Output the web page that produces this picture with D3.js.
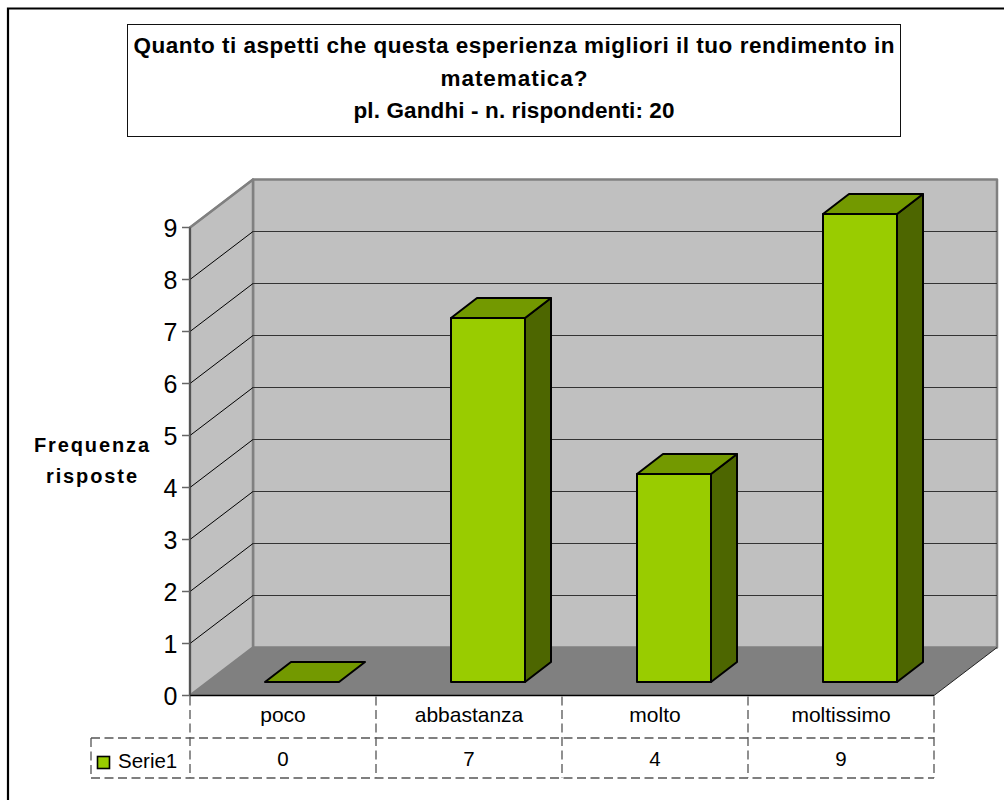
<!DOCTYPE html>
<html><head><meta charset="utf-8">
<script src="https://cdn.jsdelivr.net/npm/d3@7"></script>
<style>html,body{margin:0;padding:0;background:#fff}svg{display:block}text{font-family:"Liberation Sans",Arial,sans-serif;fill:#000}</style>
</head><body><script>
const categories = ["poco","abbastanza","molto","moltissimo"];
const seriesName = "Serie1";
const seriesValues = [0,7,4,9];
const yTicks = [0,1,2,3,4,5,6,7,8,9];
const titleLines = ["Quanto ti aspetti che questa esperienza migliori il tuo rendimento in","matematica?","pl. Gandhi - n. rispondenti: 20"];
const yTitleLines = ["Frequenza","risposte"];

const svg = d3.select("body").append("svg").attr("width",1004).attr("height",800);
const x = d3.scaleBand().domain(categories).range([190,934]);
const y = d3.scaleLinear().domain([0,9]).range([695.5,227.5]);
const wallDx = 63, wallDy = -48;
const barOffDx = 17, barOffDy = -13.5, barDepthDx = 26, barDepthDy = -20, barInset = 58, barW = 74;
const line = d3.line();
const poly = (pts,fill,stroke,sw) => svg.append("path").attr("d",line(pts)+"Z").attr("fill",fill)
  .attr("stroke",stroke||"none").attr("stroke-width",sw||0).attr("stroke-linejoin","round");
const seg = (x1,y1,x2,y2,stroke,sw,dash) => svg.append("line").attr("x1",x1).attr("y1",y1).attr("x2",x2).attr("y2",y2)
  .attr("stroke",stroke).attr("stroke-width",sw).attr("stroke-dasharray",dash||null);

// frame
svg.append("path").attr("d","M8,1000V8.5H1010").attr("fill","none").attr("stroke","#000").attr("stroke-width",2.2);

// title box
svg.append("rect").attr("x",127.5).attr("y",24.5).attr("width",773).attr("height",112).attr("fill","#fff").attr("stroke","#111").attr("stroke-width",1);
const titleWidths = [761,147,321], titleBase = [53,86,118];
svg.append("g").selectAll("text").data(titleLines).join("text")
  .attr("x",514).attr("y",(d,i)=>titleBase[i]).attr("text-anchor","middle")
  .attr("font-size",22.5).attr("font-weight","bold")
  .attr("textLength",(d,i)=>titleWidths[i]).attr("lengthAdjust","spacing").text(d=>d);

// walls
const [x0,x1] = x.range(); const y0 = y(0), y9 = y(9);
poly([[x0+wallDx,y9+wallDy],[x1+wallDx,y9+wallDy],[x1+wallDx,y0+wallDy],[x0+wallDx,y0+wallDy]],"#C0C0C0","#808080",2.5);
poly([[x0,y9],[x0+wallDx,y9+wallDy],[x0+wallDx,y0+wallDy],[x0,y0]],"#C0C0C0","#808080",2.5);
poly([[x0,y0],[x0+wallDx,y0+wallDy],[x1+wallDx,y0+wallDy],[x1,y0]],"#808080");

// gridlines
yTicks.filter(t=>t>0&&t<9).forEach(t=>{
  seg(x0,y(t),x0+wallDx,y(t)+wallDy,"#000",1);
  seg(x0+wallDx,y(t)+wallDy,x1+wallDx,y(t)+wallDy,"#333",1.2);
});
seg(x0,y(9),x0+wallDx,y(9)+wallDy,"#808080",2);
seg(x0,y0,x1,y0,"#000",1.5);
seg(x1,y0,x1+wallDx,y0+wallDy,"#222",1);
seg(x0,y9,x0,y0,"#444",1.5);

// ticks
yTicks.forEach(t=>{
  seg(x0-8,y(t),x0,y(t),"#666",1.5);
  svg.append("text").attr("x",x0-12.5).attr("y",y(t)+9).attr("text-anchor","end").attr("font-size",25).text(t);
});

// axis title
const yTitleWidths = [115,91];
svg.append("g").selectAll("text").data(yTitleLines).join("text")
  .attr("x",91.5).attr("y",(d,i)=>452+i*31).attr("text-anchor","middle")
  .attr("font-size",20).attr("font-weight","bold")
  .attr("textLength",(d,i)=>yTitleWidths[i]).attr("lengthAdjust","spacing").text(d=>d);

// bars
categories.forEach((c,i)=>{
  const l = x(c)+barOffDx+barInset, r = l+barW;
  const b = y(0)+barOffDy, t = y(seriesValues[i])+barOffDy;
  if (seriesValues[i]>0) {
    poly([[r,t],[r+barDepthDx,t+barDepthDy],[r+barDepthDx,b+barDepthDy],[r,b]],"#4D6600","#000",2);
    poly([[l,t],[r,t],[r,b],[l,b]],"#99CC00","#000",2);
  }
  poly([[l,t],[l+barDepthDx,t+barDepthDy],[r+barDepthDx,t+barDepthDy],[r,t]],"#739900","#000",2);
});

// data table
const dash="9,4.5", tc="#555";
const tableMid=738, tableBot=778, legendL=91;
[...categories.map(c=>x(c)),x1].forEach(v=>seg(v,y0+1,v,tableBot,tc,1.3,dash));
seg(legendL,tableMid,x1,tableMid,tc,1.3,dash);
seg(legendL,tableBot,x1,tableBot,tc,1.3,dash);
seg(legendL,tableMid,legendL,tableBot,tc,1.3,dash);
categories.forEach((c,i)=>{
  const cx = x(c)+x.bandwidth()/2;
  svg.append("text").attr("x",cx).attr("y",722).attr("text-anchor","middle").attr("font-size",21).text(c);
  svg.append("text").attr("x",cx).attr("y",765.5).attr("text-anchor","middle").attr("font-size",20.5).text(seriesValues[i]);
});
svg.append("rect").attr("x",97.5).attr("y",756.5).attr("width",12).attr("height",12).attr("fill","#99CC00").attr("stroke","#000").attr("stroke-width",1.6);
svg.append("text").attr("x",118).attr("y",768).attr("font-size",20.5).text(seriesName);
</script></body></html>
